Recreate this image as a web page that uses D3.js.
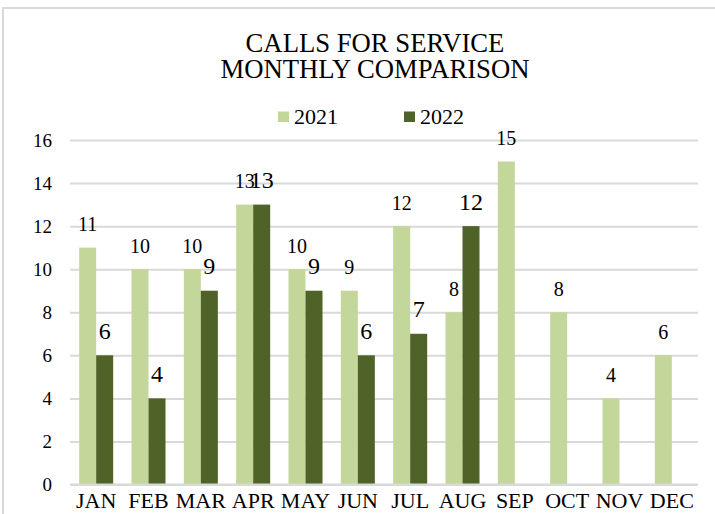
<!DOCTYPE html>
<html>
<head>
<meta charset="utf-8">
<script src="https://cdn.jsdelivr.net/npm/d3@7"></script>
<style>
  body { margin: 0; background: #fff; }
</style>
</head>
<body>
<div class="chart"></div>
<script>
// Chart data
var months = ["JAN", "FEB", "MAR", "APR", "MAY", "JUN", "JUL", "AUG", "SEP", "OCT", "NOV", "DEC"];
var calls2021 = [11, 10, 10, 13, 10, 9, 12, 8, 15, 8, 4, 6];
var calls2022 = [6, 4, 9, 13, 9, 6, 7, 12, null, null, null, null];
var seriesNames = ["2021", "2022"];
var yTicks = [0, 2, 4, 6, 8, 10, 12, 14, 16];

var width = 715, height = 514;
var serif = "'Liberation Serif', 'Times New Roman', serif";
var colors = { "2021": "#c4d79b", "2022": "#4f6228" };
var labelSize = { "2021": "20px", "2022": "24px" };

var svg = d3.select(".chart")
    .append("svg")
        .attr("width", width)
        .attr("height", height)
        .style("font-family", serif);

// Outer chart border (cut off on the right and bottom)
svg.append("rect")
    .attr("x", 3)
    .attr("y", 8)
    .attr("width", 800)
    .attr("height", 600)
    .attr("fill", "none")
    .attr("stroke", "#d9d9d9")
    .attr("stroke-width", 2);

// Title
var title = svg.append("text")
    .attr("text-anchor", "middle")
    .style("font-family", serif)
    .style("font-size", "26.7px");
title.append("tspan").attr("x", 375).attr("y", 51.7).text("CALLS FOR SERVICE");
title.append("tspan").attr("x", 375).attr("y", 78).text("MONTHLY COMPARISON");

// Legend
var legendX = [278, 404];
var legend = svg.selectAll(".legend")
    .data(seriesNames)
    .enter().append("g")
        .attr("class", "legend")
        .attr("transform", function(d, i) { return "translate(" + legendX[i] + ",0)"; });

legend.append("rect")
    .attr("x", 0)
    .attr("y", 111.5)
    .attr("width", 11)
    .attr("height", 10.5)
    .attr("fill", function(d) { return colors[d]; });

legend.append("text")
    .attr("x", 16)
    .attr("y", 124.3)
    .style("font-family", serif)
    .style("font-size", "22px")
    .text(function(d) { return d; });

// Scales
var x0 = d3.scaleBand()
    .domain(months)
    .range([70, 698])
    .paddingInner(0.35)
    .paddingOuter(0.175);

var x1 = d3.scaleBand()
    .domain(seriesNames)
    .range([0, x0.bandwidth()])
    .padding(0);

var y = d3.scaleLinear()
    .domain([0, 16])
    .range([484.5, 140]);

// Gridlines
svg.append("g")
    .attr("class", "grid")
    .attr("transform", "translate(70,0)")
    .call(d3.axisLeft(y)
        .tickValues(yTicks)
        .tickSize(-628)
        .tickFormat(""))
    .call(function(g) {
        g.select(".domain").remove();
        g.selectAll("line").attr("stroke", "#d9d9d9").attr("stroke-width", 2);
    });

// Y axis labels
svg.append("g")
    .attr("class", "yAxis")
    .attr("transform", "translate(52,0)")
    .call(d3.axisLeft(y)
        .tickValues(yTicks)
        .tickSize(0)
        .tickPadding(0))
    .call(function(g) {
        g.attr("font-family", null).attr("font-size", null);
        g.select(".domain").remove();
        g.selectAll("text")
            .attr("dy", "0.34em")
            .style("font-size", "19px")
            .style("font-family", serif);
    });

// Bars
var rows = months.map(function(m, i) {
    return { month: m, values: [
        { key: "2021", value: calls2021[i] },
        { key: "2022", value: calls2022[i] }
    ]};
});

var groups = svg.selectAll(".month")
    .data(rows)
    .enter().append("g")
        .attr("class", "month")
        .attr("transform", function(d) { return "translate(" + x0(d.month) + ",0)"; });

var cells = groups.selectAll(".cell")
    .data(function(d) { return d.values.filter(function(v) { return v.value != null; }); })
    .enter().append("g")
        .attr("class", "cell");

cells.append("rect")
    .attr("x", function(d) { return x1(d.key); })
    .attr("y", function(d) { return y(d.value); })
    .attr("width", x1.bandwidth())
    .attr("height", function(d) { return y(0) - y(d.value); })
    .attr("fill", function(d) { return colors[d.key]; });

cells.append("text")
    .attr("x", function(d) { return x1(d.key) + x1.bandwidth() / 2; })
    .attr("y", function(d) { return y(d.value) - 16.5; })
    .attr("text-anchor", "middle")
    .style("font-family", serif)
    .style("font-size", function(d) { return labelSize[d.key]; })
    .text(function(d) { return d.value; });

// X axis baseline and labels
svg.append("g")
    .attr("class", "xAxis")
    .attr("transform", "translate(0," + y(0) + ")")
    .call(d3.axisBottom(x0).tickSize(0).tickPadding(0))
    .call(function(g) {
        g.attr("font-family", null).attr("font-size", null);
        g.select(".domain").attr("stroke", "#d9d9d9").attr("stroke-width", 2)
            .attr("d", "M70,0H698");
        g.selectAll("text")
            .attr("y", 23.5)
            .attr("dy", 0)
            .style("font-size", "22px")
            .style("font-family", serif);
    });
</script>
</body>
</html>
